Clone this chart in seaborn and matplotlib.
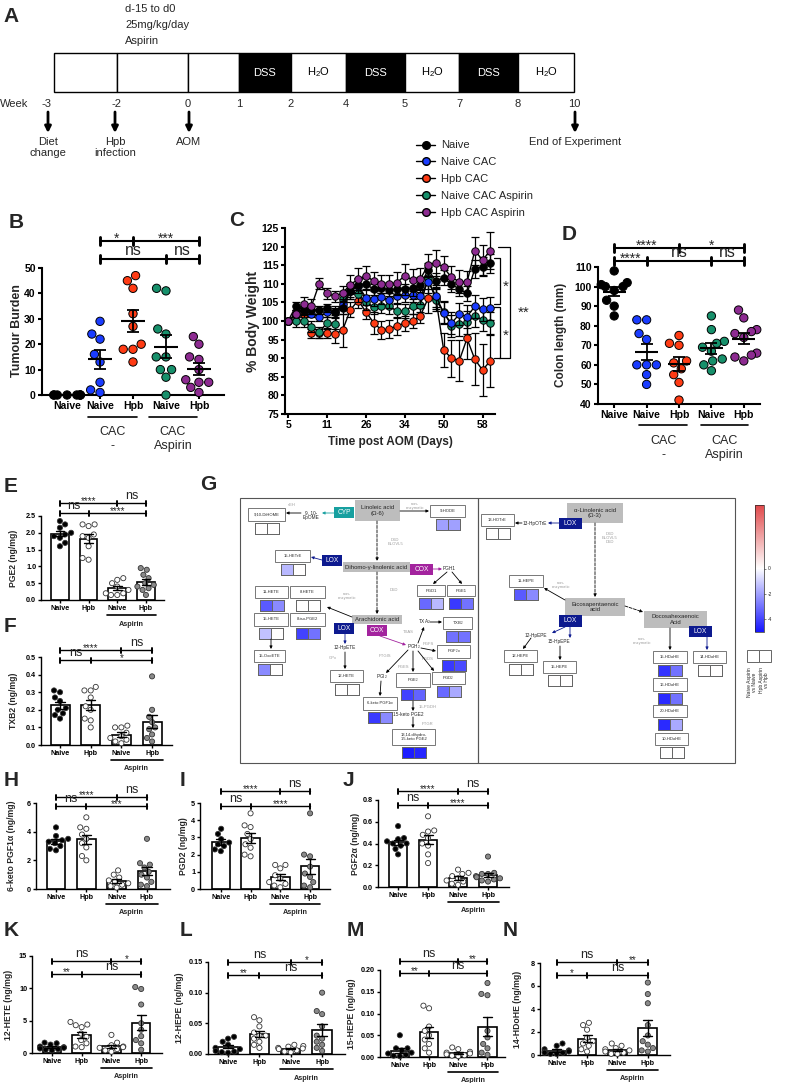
import warnings
import numpy as np
import pandas as pd
import matplotlib
matplotlib.use("Agg")
import matplotlib.pyplot as plt
import matplotlib.transforms as mtransforms
from matplotlib.lines import Line2D
from matplotlib.colors import TwoSlopeNorm, LinearSegmentedColormap
from matplotlib.cm import ScalarMappable
import seaborn as sns

warnings.filterwarnings("ignore")

# ============================================================================
# DATA
# ============================================================================

# B - tumour burden
GROUPS5 = ["Naive", "Naive CAC", "Hpb CAC", "Naive CAC Aspirin", "Hpb CAC Aspirin"]
XLAB5 = ["Naive", "Naive", "Hpb", "Naive", "Hpb"]
TUMOUR_NAIVE = [0, 0, 0, 0, 0, 0, 0, 0]
TUMOUR_NAIVE_CAC = [29, 24, 22, 16, 13, 5, 2, 1]
TUMOUR_HPB_CAC = [47, 45, 42, 32, 27, 20, 18, 18, 13]
TUMOUR_NAIVE_ASP = [42, 41, 26, 24, 15, 15, 10, 10, 7, 0]
TUMOUR_HPB_ASP = [23, 20, 15, 14, 10, 6, 5, 5, 3, 1]

# C - % body weight (mean, SEM) per time point
DAY_TICKS = [5, 11, 26, 34, 50, 58]
BW_NAIVE = [100, 104, 103, 103, 103, 103.5, 102.5, 103.5, 108, 109.8, 110, 108.5, 109, 108.3,
            108.5, 108.5, 108.8, 109.7, 113.7, 110.8, 111.6, 109.9, 108.6, 107.4, 114, 114.6, 115.5]
BW_NAIVE_CAC = [100, 102, 103, 102, 101, 102.5, 102.5, 104.5, 108, 109.5, 106.3, 106, 106.5, 105.6,
                106.8, 107, 107, 106.7, 110.5, 106.8, 102.1, 99.4, 101.8, 101.2, 103.9, 103.1, 103.4]
BW_HPB_CAC = [100, 101.5, 102, 96.7, 96.7, 96.7, 96.5, 97.5, 103, 105.5, 102.5, 99.5, 97.6, 97.8,
              98.7, 99.4, 100, 101.4, 106.1, 106.1, 92.2, 90, 89.3, 95.3, 89.7, 86.8, 89.3]
BW_NAIVE_ASP = [100, 100, 100, 98.5, 97, 99.5, 99.3, 106, 108, 107.2, 105, 103.8, 104.1, 103.9,
                102.7, 102.7, 104, 104.3, 111.5, 105.6, 102.5, 98.7, 99.1, 99.6, 101.4, 100.3, 99.4]
BW_HPB_ASP = [100, 102, 104.5, 104, 110, 107.5, 106.6, 107.5, 109.8, 111.2, 112.2, 110.7, 109.9, 109.9,
              110.3, 112.2, 111, 111.3, 115, 115.7, 114.4, 111.7, 110.6, 110.4, 118.9, 116.4, 118.9]
SEM_NAIVE = [0, 1, 1, 1, 1, 1, 1, 1.5, 1.5, 1.5, 1.5, 1.5, 1.5, 1.5, 1.5, 1.5, 2, 2, 2, 2, 2, 2, 2, 2, 2.5, 2.5, 2.5]
SEM_NAIVE_CAC = [0, 1, 1, 1, 1, 1.5, 1.5, 1.5, 2, 2, 2, 2, 2, 2, 2, 2, 2, 2, 3, 3, 3, 3, 3, 3, 3, 3, 3]
SEM_HPB_CAC = [0, 1, 1, 1.2, 1.2, 1.2, 2.3, 4.5, 2, 2, 2, 3, 2.5, 2.5, 2.5, 2, 2, 2, 4, 3, 4.5, 5, 5.5, 5.5, 7, 7, 7]
SEM_NAIVE_ASP = [0, 1.5, 1.5, 1.5, 1.5, 1.5, 1.5, 2, 2, 2, 2, 2, 2, 2, 2, 2, 2, 2, 3, 3, 3, 3, 3, 3, 3, 3, 3]
SEM_HPB_ASP = [0, 1, 2, 2, 1.5, 1.5, 1.5, 2, 2.5, 3, 2.5, 2.5, 2.5, 2.5, 3, 3, 3, 3, 3, 3.5, 3, 3, 3, 3, 3.8, 4, 5]

# D - colon length
COLON_NAIVE = [108, 102, 101, 100, 100, 98, 93, 90, 85]
COLON_NAIVE_CAC = [83, 83, 76, 73, 60, 60, 60, 55, 50]
COLON_HPB_CAC = [75, 71, 70, 62, 61, 58, 55, 51, 42]
COLON_NAIVE_ASP = [85, 78, 72, 71, 69, 67, 63, 62, 60, 57]
COLON_HPB_ASP = [88, 84, 78, 77, 76, 74, 66, 65, 64, 62]

# E-N - eicosanoids (Naive, Hpb, Naive Aspirin, Hpb Aspirin)
GROUPS4 = ["Naive", "Hpb", "Naive Aspirin", "Hpb Aspirin"]
XLAB4 = ["Naive", "Hpb", "Naive", "Hpb"]
PGE2 = [[2.35, 2.25, 2.15, 2.0, 1.95, 1.9, 1.85, 1.7, 1.6],
        [2.25, 2.2, 2.25, 1.95, 1.9, 1.85, 1.6, 1.25, 1.2],
        [0.65, 0.6, 0.5, 0.4, 0.3, 0.2, 0.2, 0.15, 0.15],
        [0.95, 0.9, 0.75, 0.65, 0.5, 0.45, 0.4, 0.35, 0.3, 0.15]]
TXB2 = [[0.31, 0.30, 0.27, 0.25, 0.21, 0.2, 0.18, 0.17, 0.15],
        [0.33, 0.31, 0.31, 0.27, 0.22, 0.2, 0.15, 0.14, 0.1],
        [0.11, 0.1, 0.1, 0.07, 0.05, 0.04, 0.03, 0.02, 0.01],
        [0.39, 0.2, 0.16, 0.13, 0.1, 0.09, 0.06, 0.04, 0.02]]
KETO_PGF1A = [[4.3, 3.7, 3.5, 3.4, 3.3, 3.2, 3.0, 2.8, 2.7],
              [5.0, 4.3, 4.2, 3.8, 3.5, 3.2, 2.9, 2.3, 2.0],
              [1.3, 1.0, 0.8, 0.6, 0.5, 0.4, 0.3, 0.2, 0.1],
              [3.5, 1.8, 1.7, 1.5, 1.2, 1.0, 0.8, 0.5, 0.3, 0.2]]
PGD2 = [[3.5, 3.2, 2.9, 2.7, 2.6, 2.5, 2.3, 2.2],
        [4.4, 3.7, 3.6, 3.2, 2.9, 2.6, 2.4, 1.9, 2.0],
        [1.4, 1.4, 1.2, 0.8, 0.6, 0.4, 0.3, 0.2, 0.1],
        [4.4, 2.0, 1.9, 1.3, 0.9, 0.7, 0.4, 0.2, 0.1]]
PGF2A = [[0.56, 0.45, 0.44, 0.42, 0.40, 0.40, 0.38, 0.35, 0.30],
         [0.65, 0.52, 0.51, 0.48, 0.45, 0.40, 0.38, 0.30, 0.22],
         [0.16, 0.13, 0.12, 0.10, 0.08, 0.06, 0.05, 0.03, 0.02],
         [0.28, 0.13, 0.12, 0.12, 0.10, 0.09, 0.08, 0.07, 0.06, 0.05]]
HETE12 = [[1.6, 1.5, 1.3, 1.0, 0.9, 0.8, 0.7, 0.6, 0.5, 0.4],
          [4.8, 4.4, 4.3, 4.0, 3.0, 2.5, 2.0, 1.5, 1.0, 0.9],
          [2.8, 1.6, 1.2, 1.0, 0.9, 0.8, 0.6, 0.4, 0.2],
          [10.2, 9.9, 7.5, 4.6, 3.6, 2.6, 2.0, 1.5, 0.5]]
HEPE12 = [[0.028, 0.025, 0.02, 0.015, 0.01, 0.008, 0.005, 0.004, 0.003, 0.002],
          [0.06, 0.055, 0.045, 0.035, 0.03, 0.03, 0.025, 0.02, 0.015, 0.01],
          [0.015, 0.013, 0.012, 0.01, 0.009, 0.008, 0.006, 0.004, 0.003],
          [0.1, 0.07, 0.065, 0.045, 0.03, 0.025, 0.02, 0.015, 0.01, 0.005]]
HEPE15 = [[0.05, 0.02, 0.02, 0.015, 0.01, 0.008, 0.005, 0.003, 0.002],
          [0.118, 0.112, 0.07, 0.06, 0.05, 0.04, 0.03, 0.02, 0.01],
          [0.022, 0.018, 0.012, 0.01, 0.008, 0.006, 0.004, 0.003, 0.002],
          [0.17, 0.145, 0.142, 0.06, 0.045, 0.03, 0.02, 0.01, 0.005]]
HDOHE14 = [[1.0, 0.8, 0.5, 0.4, 0.3, 0.3, 0.2, 0.2, 0.1, 0.1],
           [2.8, 2.6, 2.2, 1.5, 1.2, 1.0, 0.8, 0.5, 0.3],
           [1.0, 0.8, 0.6, 0.5, 0.4, 0.3, 0.2, 0.1, 0.1],
           [6.3, 5.3, 4.5, 2.6, 1.7, 1.2, 0.9, 0.6, 0.4, 0.3]]

# G - log fold change (Naive Aspirin vs Naive, Hpb Aspirin vs Hpb)
METABOLITES = ["9,10-DiHOME", "9-HODE", "15-HETrE", "PGD1", "PGE1", "11-HETE", "8-HETE",
               "15-HETE", "8-iso-PGE2", "15-OxoETE", "12-HETE", "TXB$_2$", "PGF$_{2\\alpha}$",
               "PGD$_2$", "PGE$_2$", "6-keto PGF1\u03b1", "13,14-dihydro-\n15-keto PGE2",
               "13-HOTrE", "11-HEPE", "12-HEPE", "15-HEPE", "15-HDoHE", "14-HDoHE",
               "16-HDoHE", "20-HDoHE", "10-HDoHE"]
LFC_NAIVE = [0, -2.0, -1.5, -3.2, -4.2, -3.5, 0, -1.3, -4.0, -2.5, 0, -3.0, -4.2,
             -3.2, -4.0, -4.2, -4.8, 0, -3.5, 0, 0, -4.3, 0, -4.5, -4.5, 0]
LFC_HPB = [0, -2.0, 0, -1.5, -3.0, -2.5, 0, 0, -3.0, 0, 0, -3.0, -3.8,
           -1.8, -3.3, -2.5, -4.6, 0, -2.5, 0, 0, -3.0, 0, -3.0, -1.8, 0]

# ============================================================================
# STYLE / LAYOUT
# ============================================================================

W, H = 785, 1083
sns.set_theme(style="ticks")
plt.rcParams["font.family"] = ["Liberation Sans", "DejaVu Sans"]
plt.rcParams["mathtext.default"] = "regular"
plt.rcParams["axes.unicode_minus"] = False

COLORS5 = ["black", "#1a3cff", "#ff3b14", "#17906b", "#8d2b91"]
FACES4 = ["black", "white", "white", "#8a8a8a"]
NAVY, TEAL, PURP = "#0d1a8f", "#17a0a0", "#a3239e"
GREYBOX, GREYTXT = "#bdbdbd", "#9c9c9c"

fig = plt.figure(figsize=(W / 100, H / 100), dpi=100)
PX = mtransforms.Affine2D().scale(1 / W, -1 / H).translate(0, 1) + fig.transFigure

ov = fig.add_axes([0, 0, 1, 1])
ov.set_xlim(0, W)
ov.set_ylim(H, 0)
ov.axis("off")


def px_axes(x0, y0, x1, y1):
    return fig.add_axes([x0 / W, 1 - y1 / H, (x1 - x0) / W, (y1 - y0) / H])


def long_frame(groups, values):
    return pd.DataFrame({"group": np.repeat(groups, [len(v) for v in values]),
                         "value": np.concatenate(values)})


def prism(ax, lw, fs, ticklen=3):
    sns.despine(ax=ax)
    for s in ("left", "bottom"):
        ax.spines[s].set_linewidth(lw)
        ax.spines[s].set_color("black")
    ax.tick_params(width=lw, length=ticklen, labelsize=fs, pad=1.5, colors="black")
    for lab in ax.get_xticklabels() + ax.get_yticklabels():
        lab.set_fontweight("bold")
    ax.set_xlabel("")
    ax.set_ylabel("")
    ax.patch.set_alpha(0)


def sig_rows(ax, rows, fs_star, fs_ns, lw=1.0, tick=3):
    tr = mtransforms.blended_transform_factory(ax.transData, PX)
    for y, cats, labels in rows:
        ax.plot([cats[0], cats[-1]], [y, y], color="black", lw=lw, transform=tr, clip_on=False)
        for c in cats:
            ax.plot([c, c], [y - tick, y + tick], color="black", lw=lw * 1.4, transform=tr, clip_on=False)
        for a, b, lab in zip(cats[:-1], cats[1:], labels):
            if lab == "ns":
                ax.text((a + b) / 2, y - 1, lab, ha="center", va="bottom", fontsize=fs_ns, transform=tr)
            else:
                ax.text((a + b) / 2, y + fs_star * 0.45, lab, ha="center", va="bottom",
                        fontsize=fs_star, transform=tr)


def group_line(ax, a, b, y, text, ty, fs, sub=None, sy=None):
    tr = mtransforms.blended_transform_factory(ax.transData, PX)
    ax.plot([a, b], [y, y], color="black", lw=1.2, transform=tr, clip_on=False)
    ax.text((a + b) / 2, ty, text, ha="center", va="center", fontsize=fs, transform=tr)
    if sub is not None:
        ax.text((a + b) / 2, sy, sub, ha="center", va="center", fontsize=fs, transform=tr)


def letter(x, y, s):
    ov.text(x, y, s, fontsize=15, fontweight="bold", ha="left", va="center")


# ============================================================================
# A - timeline
# ============================================================================

TL_EDGES = [54, 117, 188, 239, 291, 346, 405, 459, 518, 574]
TL_TEXT = ["", "", "", "DSS", "H$_2$O", "DSS", "H$_2$O", "DSS", "H$_2$O"]
WEEKS = ["-3", "-2", "0", "1", "2", "4", "5", "7", "8", "10"]
letter(3, 16, "A")
for i, t in enumerate(["d-15 to d0", "25mg/kg/day", "Aspirin"]):
    ov.text(125, 9 + 16 * i, t, fontsize=8, va="center")
for i, lab in enumerate(TL_TEXT):
    x0, x1 = TL_EDGES[i], TL_EDGES[i + 1]
    dss = lab == "DSS"
    ov.add_patch(plt.Rectangle((x0, 53), x1 - x0, 39, facecolor="black" if dss else "white",
                               edgecolor="black", lw=1))
    ov.text((x0 + x1) / 2, 72.5, lab, ha="center", va="center", fontsize=8,
            color="white" if dss else "black")
ov.text(0, 104, "Week", fontsize=8, va="center")
for i, wk in enumerate(WEEKS):
    x = TL_EDGES[i] if i else 47
    ov.text(x, 104, wk, fontsize=8, ha="center", va="center")
for x, lab in [(48, "Diet\nchange"), (115, "Hpb\ninfection"), (189, "AOM"), (575, "End of Experiment")]:
    ov.annotate("", xy=(x, 133), xytext=(x, 112),
                arrowprops=dict(arrowstyle="-|>", color="black", lw=2, mutation_scale=9, shrinkA=0, shrinkB=0))
    ov.text(x, 137, lab, ha="center", va="top", fontsize=8, linespacing=1.15)

# ============================================================================
# B - tumour burden
# ============================================================================

letter(9, 222, "B")
axB = px_axes(42, 268, 224, 395)
dfB = long_frame(GROUPS5, [TUMOUR_NAIVE, TUMOUR_NAIVE_CAC, TUMOUR_HPB_CAC, TUMOUR_NAIVE_ASP, TUMOUR_HPB_ASP])
sns.swarmplot(data=dfB, x="group", y="value", order=GROUPS5, hue="group", hue_order=GROUPS5,
              palette=COLORS5, size=6, edgecolor="black", linewidth=0.7, legend=False, ax=axB,
              clip_on=False, zorder=3)
statsB = dfB.groupby("group")["value"].agg(["mean", "sem"]).reindex(GROUPS5)
for i, (m, s) in enumerate(statsB.values):
    axB.hlines(m, i - 0.37, i + 0.37, color="black", lw=1.5, zorder=4)
    axB.errorbar(i, m, yerr=s, color="black", capsize=4, lw=1.3, capthick=1.3, zorder=4)
axB.set_xlim(-0.76, 4.76)
axB.set_ylim(0, 50)
axB.set_yticks([0, 10, 20, 30, 40, 50])
axB.set_xticks(range(5))
axB.set_xticklabels(XLAB5)
prism(axB, 1.5, 7.5, 3)
ov.text(17, 331, "Tumour Burden", rotation=90, ha="center", va="center", fontsize=9, fontweight="bold")
group_line(axB, 0.64, 2.12, 417, "CAC", 432, 9, "-", 446)
group_line(axB, 2.48, 3.94, 417, "CAC", 432, 9, "Aspirin", 446)
sig_rows(axB, [(241, [1, 2, 4], ["*", "***"]), (259, [1, 3, 4], ["ns", "ns"])], 10, 11.5, lw=1.5, tick=4)

# ============================================================================
# C - body weight
# ============================================================================

letter(229, 220, "C")
axC = px_axes(285, 228, 495, 414)
idx = np.arange(len(BW_NAIVE))
series = [(BW_HPB_CAC, SEM_HPB_CAC, COLORS5[2]), (BW_NAIVE_ASP, SEM_NAIVE_ASP, COLORS5[3]),
          (BW_NAIVE_CAC, SEM_NAIVE_CAC, COLORS5[1]), (BW_NAIVE, SEM_NAIVE, COLORS5[0]),
          (BW_HPB_ASP, SEM_HPB_ASP, COLORS5[4])]
for vals, sems, col in series:
    axC.errorbar(idx, vals, yerr=sems, fmt="none", ecolor="black", elinewidth=0.9, capsize=2.8, capthick=0.9)
    sns.lineplot(x=idx, y=vals, color="black", lw=1.0, marker="o", markersize=5.4,
                 markerfacecolor=col, markeredgecolor="black", markeredgewidth=0.7, ax=axC)
axC.set_xlim(-0.4, 26.6)
axC.set_ylim(75, 125)
axC.set_yticks(range(75, 126, 5))
axC.set_xticks([0, 5, 10, 15, 20, 25])
axC.set_xticklabels(DAY_TICKS)
prism(axC, 1.5, 7.5, 3)
ov.text(253, 321, "% Body Weight", rotation=90, ha="center", va="center", fontsize=10, fontweight="bold")
ov.text(390, 442, "Time post AOM (Days)", ha="center", va="center", fontsize=8.5, fontweight="bold")
for xs, ys in [([498, 510, 510, 499], [247, 247, 358, 358]),
               ([494, 500, 500, 494], [258, 258, 304, 304]),
               ([494, 500, 500, 494], [307, 307, 358, 358])]:
    ov.plot(xs, ys, color="black", lw=0.9)
ov.text(506, 287, "*", fontsize=11, ha="center", va="center")
ov.text(506, 336, "*", fontsize=11, ha="center", va="center")
ov.text(524, 313, "**", fontsize=11, ha="center", va="center")

handles = [Line2D([0], [0], color="black", lw=1, marker="o", markersize=5.5, markerfacecolor=c,
                  markeredgecolor="black") for c in COLORS5]
fig.legend(handles, GROUPS5, loc="upper left", bbox_to_anchor=(412 / W, 1 - 136 / H), frameon=False,
           fontsize=8, labelspacing=0.62, handlelength=1.7, handletextpad=0.5, borderaxespad=0)

# ============================================================================
# D - colon length
# ============================================================================

letter(562, 235, "D")
axD = px_axes(598, 267, 760, 404)
dfD = long_frame(GROUPS5, [COLON_NAIVE, COLON_NAIVE_CAC, COLON_HPB_CAC, COLON_NAIVE_ASP, COLON_HPB_ASP])
sns.swarmplot(data=dfD, x="group", y="value", order=GROUPS5, hue="group", hue_order=GROUPS5,
              palette=COLORS5, size=6, edgecolor="black", linewidth=0.7, legend=False, ax=axD,
              clip_on=False, zorder=3)
statsD = dfD.groupby("group")["value"].agg(["mean", "sem"]).reindex(GROUPS5)
for i, (m, s) in enumerate(statsD.values):
    axD.hlines(m, i - 0.35, i + 0.35, color="black", lw=1.5, zorder=4)
    axD.errorbar(i, m, yerr=s, color="black", capsize=4, lw=1.3, capthick=1.3, zorder=4)
axD.set_xlim(-0.5, 4.5)
axD.set_ylim(40, 110)
axD.set_yticks(range(40, 111, 10))
axD.set_xticks(range(5))
axD.set_xticklabels(XLAB5)
prism(axD, 1.5, 7.5, 3)
ov.text(561, 335, "Colon length (mm)", rotation=90, ha="center", va="center", fontsize=8.5, fontweight="bold")
group_line(axD, 0.77, 2.25, 425, "CAC", 441, 9, "-", 455)
group_line(axD, 2.68, 4.12, 425, "CAC", 441, 9, "Aspirin", 455)
sig_rows(axD, [(248, [0, 2, 4], ["****", "*"]), (261, [0, 1, 3, 4], ["****", "ns", "ns"])], 10, 11.5,
         lw=1.5, tick=4)

# ============================================================================
# E, F, H-N - eicosanoid bar panels
# ============================================================================


def bar_panel(rect, values, ylim, yticks, fmt, ylabel, xlim, ylabel_x, rows):
    x0, y0, x1, y1 = rect
    ax = px_axes(*rect)
    df = long_frame(GROUPS4, values)
    sns.barplot(data=df, x="group", y="value", order=GROUPS4, color="white", edgecolor="black",
                linewidth=1.2, width=0.62, errorbar="se", capsize=0.3,
                err_kws={"color": "black", "linewidth": 1.0}, ax=ax)
    for ln in ax.lines:
        ln.set_zorder(5)
    sns.swarmplot(data=df, x="group", y="value", order=GROUPS4, hue="group", hue_order=GROUPS4,
                  palette=FACES4, size=3.7, edgecolor="#333333", linewidth=0.6, legend=False, ax=ax,
                  clip_on=False, zorder=3)
    ax.set_xlim(*xlim)
    ax.set_ylim(*ylim)
    ax.set_yticks(yticks)
    ax.set_yticklabels([fmt.format(t) for t in yticks])
    ax.set_xticks(range(4))
    ax.set_xticklabels(XLAB4)
    prism(ax, 1.0, 5.2, 2)
    ov.text(ylabel_x, (y0 + y1) / 2, ylabel, rotation=90, ha="center", va="center", fontsize=6.2,
            fontweight="bold")
    group_line(ax, 1.65, 3.35, y1 + 15, "Aspirin", y1 + 24, 5.2)
    ax.texts[-1].set_fontweight("bold")
    sig_rows(ax, rows, 7, 9, lw=1.0, tick=2.5)
    return ax


letter(4, 487, "E")
bar_panel((41, 516, 164, 600), PGE2, (0, 2.5), [0, 0.5, 1.0, 1.5, 2.0, 2.5], "{:.1f}", "PGE2 (ng/mg)",
          (-0.66, 3.63), 14, [(503, [0, 2, 3], ["****", "ns"]), (513, [0, 1, 3], ["ns", "****"])])
letter(4, 627, "F")
bar_panel((41, 657, 172, 745), TXB2, (0, 0.5), [0, 0.1, 0.2, 0.3, 0.4, 0.5], "{:.1f}", "TXB2 (ng/mg)",
          (-0.62, 3.65), 14, [(650, [0, 2, 3], ["****", "ns"]), (660, [0, 1, 3], ["ns", "*"])])
letter(4, 780, "H")
bar_panel((36, 803, 170, 889), KETO_PGF1A, (0, 6), [0, 2, 4, 6], "{:g}", "6-keto PGF1\u03b1 (ng/mg)",
          (-0.66, 3.76), 12, [(797, [0, 2, 3], ["****", "ns"]), (806, [0, 1, 3], ["ns", "***"])])
letter(180, 780, "I")
bar_panel((200, 803, 330, 889), PGD2, (0, 5), [0, 1, 2, 3, 4, 5], "{:g}", "PGD2 (ng/mg)",
          (-0.7, 3.67), 183, [(791, [0, 2, 3], ["****", "ns"]), (806, [0, 1, 3], ["ns", "****"])])
letter(343, 780, "J")
bar_panel((378, 800, 509, 887), PGF2A, (0, 0.8), [0, 0.2, 0.4, 0.6, 0.8], "{:.1f}", "PGF2\u03b1 (ng/mg)",
          (-0.67, 3.7), 356, [(791, [0, 2, 3], ["****", "ns"]), (805, [0, 1, 3], ["ns", "****"])])
letter(4, 930, "K")
bar_panel((32, 956, 162, 1053), HETE12, (0, 15), [0, 5, 10, 15], "{:g}", "12-HETE (ng/mg)",
          (-0.67, 3.7), 9, [(961, [0, 2, 3], ["ns", "*"]), (974, [0, 1, 3], ["**", "ns"])])
letter(180, 930, "L")
bar_panel((208, 962, 345, 1054), HEPE12, (0, 0.15), [0, 0.05, 0.10, 0.15], "{:.2f}", "12-HEPE (ng/mg)",
          (-0.64, 3.73), 179, [(962, [0, 2, 3], ["ns", "*"]), (975, [0, 1, 3], ["**", "ns"])])
letter(347, 930, "M")
bar_panel((380, 970, 505, 1057), HEPE15, (0, 0.2), [0, 0.05, 0.10, 0.15, 0.20], "{:.2f}", "15-HEPE (ng/mg)",
          (-0.68, 3.6), 352, [(961, [0, 2, 3], ["ns", "**"]), (973, [0, 1, 3], ["**", "ns"])])
letter(503, 930, "N")
bar_panel((540, 963, 670, 1055), HDOHE14, (0, 8), [0, 2, 4, 6, 8], "{:g}", "14-HDoHE (ng/mg)",
          (-0.55, 3.73), 517, [(962, [0, 2, 3], ["ns", "**"]), (975, [0, 1, 3], ["*", "ns"])])

# ============================================================================
# G - pathway map
# ============================================================================

cmap = LinearSegmentedColormap.from_list("lfc", ["#1414ff", "#ffffff", "#e0484a"])
norm = TwoSlopeNorm(vmin=-5, vcenter=0, vmax=1.4)

letter(200, 485, "G")
ov.add_patch(plt.Rectangle((240, 498), 238, 265, fill=False, edgecolor="#555555", lw=0.8))
ov.add_patch(plt.Rectangle((478, 498), 257, 265, fill=False, edgecolor="#555555", lw=0.8))

# metabolite label boxes: x0, y0, x1, y1
MET_BOX = [(248, 508, 285, 521), (430, 505, 465, 517), (275, 550, 310, 562), (417, 585, 445, 596),
           (447, 585, 475, 596), (255, 586, 288, 598), (290, 586, 325, 598), (254, 613, 288, 626),
           (290, 613, 325, 626), (254, 650, 285, 662), (330, 670, 363, 682), (443, 617, 472, 629),
           (437, 645, 470, 658), (432, 672, 465, 684), (396, 673, 430, 687), (363, 697, 397, 710),
           (392, 729, 435, 745), (481, 514, 514, 526), (509, 575, 543, 587), (504, 650, 537, 662),
           (543, 661, 576, 673), (653, 651, 687, 663), (693, 651, 726, 663), (653, 678, 687, 691),
           (653, 705, 687, 717), (655, 733, 688, 745)]
for name, (x0, y0, x1, y1), a, b in zip(METABOLITES, MET_BOX, LFC_NAIVE, LFC_HPB):
    ov.add_patch(plt.Rectangle((x0, y0), x1 - x0, y1 - y0, facecolor="white", edgecolor="#777777", lw=0.7))
    ov.text((x0 + x1) / 2, (y0 + y1) / 2, name, ha="center", va="center", fontsize=3.0, linespacing=1.1)
    cx = (x0 + x1) / 2
    ov.pcolormesh([cx - 12, cx, cx + 12], [y1 + 2, y1 + 13], [[a, b]], cmap=cmap, norm=norm,
                  edgecolors="#666666", linewidth=0.7)

SUBSTRATES = [("Linoleic acid\n(\u03a9-6)", (355, 500, 400, 521)), ("Dihomo-\u03b3-linolenic acid", (343, 562, 410, 572)),
              ("Arachidonic acid", (352, 615, 402, 624)), ("\u03b1-Linolenic acid\n(\u03a9-3)", (567, 503, 623, 523)),
              ("Eicosapentaenoic\nacid", (565, 598, 625, 616)), ("Docosahexaenoic\nAcid", (644, 611, 707, 628))]
for name, (x0, y0, x1, y1) in SUBSTRATES:
    ov.add_patch(plt.Rectangle((x0, y0), x1 - x0, y1 - y0, facecolor=GREYBOX, edgecolor="none"))
    ov.text((x0 + x1) / 2, (y0 + y1) / 2, name, ha="center", va="center", fontsize=4.3, linespacing=1.1)

ENZYMES = [("CYP", TEAL, (334, 507, 354, 518)), ("LOX", NAVY, (322, 555, 342, 566)),
           ("COX", PURP, (410, 564, 433, 575)), ("LOX", NAVY, (334, 623, 354, 634)),
           ("COX", PURP, (367, 625, 387, 636)), ("LOX", NAVY, (559, 518, 582, 529)),
           ("LOX", NAVY, (559, 615, 582, 627)), ("LOX", NAVY, (689, 626, 712, 637))]
for name, col, (x0, y0, x1, y1) in ENZYMES:
    ov.add_patch(plt.Rectangle((x0, y0), x1 - x0, y1 - y0, facecolor=col, edgecolor="none"))
    ov.text((x0 + x1) / 2, (y0 + y1) / 2, name, ha="center", va="center", fontsize=4.8, color="white")

for s, x, y in [("9, 10-\nEpOME", 311, 515), ("PGH1", 449, 568), ("12-HpETE", 345, 648), ("PGH$_2$", 414, 647),
                ("TXA$_2$", 424, 622), ("PGI$_2$", 382, 677), ("15-keto PGE2", 408, 714),
                ("13-HpOTrE", 535, 523), ("12-HpEPE", 536, 635), ("15-HpEPE", 559, 642)]:
    ov.text(x, y, s, ha="center", va="center", fontsize=3.4, linespacing=1.0)
for s, x, y in [("sEH", 292, 505), ("non-\nenzymatic", 415, 506), ("D6D\nELOVL5", 395, 542), ("D5D", 394, 590),
                ("non-\nenzymatic", 347, 596), ("GPx", 333, 658), ("TXAS", 408, 632), ("PGFS", 428, 644),
                ("PGDS", 428, 659), ("PGES", 403, 667), ("PTGIS", 385, 656), ("15-PGDH", 428, 707),
                ("PTGR", 428, 724), ("D6D\nELOVL5\nD5D", 610, 538), ("non-\nenzymatic", 561, 585),
                ("non-\nenzymatic", 642, 641)]:
    ov.text(x, y, s, ha="center", va="center", fontsize=3.0, color=GREYTXT, linespacing=1.0)

ARROWS = [((334, 513), (322, 513), TEAL, "-"), ((301, 513), (286, 513), "black", "-"),
          ((400, 511), (429, 511), "black", "-"), ((377, 521), (377, 561), "black", "--"),
          ((322, 560), (311, 557), NAVY, "-"), ((433, 569), (442, 569), PURP, "-"),
          ((447, 572), (433, 584), "black", "-"), ((452, 572), (462, 584), "black", "-"),
          ((377, 572), (377, 614), "black", "--"), ((352, 617), (327, 607), "black", "-"),
          ((271, 639), (271, 649), "black", "-"), ((345, 634), (345, 644), NAVY, "-"),
          ((345, 652), (345, 669), "black", "-"), ((380, 636), (406, 645), PURP, "-"),
          ((418, 643), (424, 627), "black", "-"), ((430, 622), (442, 622), "black", "-"),
          ((421, 648), (436, 651), "black", "-"), ((418, 651), (434, 671), "black", "-"),
          ((413, 651), (413, 672), "black", "-"), ((408, 650), (386, 673), "black", "-"),
          ((381, 681), (380, 696), "black", "-"), ((413, 701), (413, 711), "black", "-"),
          ((413, 717), (413, 728), "black", "-"), ((559, 523), (548, 523), NAVY, "-"),
          ((522, 523), (515, 523), "black", "-"), ((595, 523), (595, 597), "black", "--"),
          ((565, 600), (544, 588), "black", "-"), ((625, 606), (643, 612), "black", "--"),
          ((565, 627), (552, 633), NAVY, "-"), ((570, 627), (570, 638), NAVY, "-"),
          ((531, 638), (523, 649), "black", "-"), ((560, 646), (560, 660), "black", "-"),
          ((670, 628), (670, 650), "black", "-"), ((707, 637), (707, 650), NAVY, "-")]
for (xa, ya), (xb, yb), col, ls in ARROWS:
    ov.annotate("", xy=(xb, yb), xytext=(xa, ya),
                arrowprops=dict(arrowstyle="-|>", color=col, lw=0.6, ls=ls, mutation_scale=4,
                                shrinkA=0, shrinkB=0))

cax = px_axes(755, 505, 764, 632)
cb = fig.colorbar(ScalarMappable(norm=norm, cmap=cmap), cax=cax, ticks=[0, -2, -4])
cb.ax.set_yticklabels(["0", "-2", "-4"])
cb.ax.tick_params(labelsize=3.5, length=1.5, width=0.4, pad=1)
cb.outline.set_linewidth(0.5)
ov.add_patch(plt.Rectangle((747, 650), 12, 12, facecolor="white", edgecolor="#666666", lw=0.7))
ov.add_patch(plt.Rectangle((759, 650), 12, 12, facecolor="white", edgecolor="#666666", lw=0.7))
for x, s in [(752, "Naive Aspirin\nvs Naive"), (764, "Hpb Aspirin\nvs Hpb")]:
    ov.text(x, 667, s, rotation=90, ha="center", va="top", fontsize=3.6, linespacing=1.0)

fig.savefig("out.png", dpi=100)
